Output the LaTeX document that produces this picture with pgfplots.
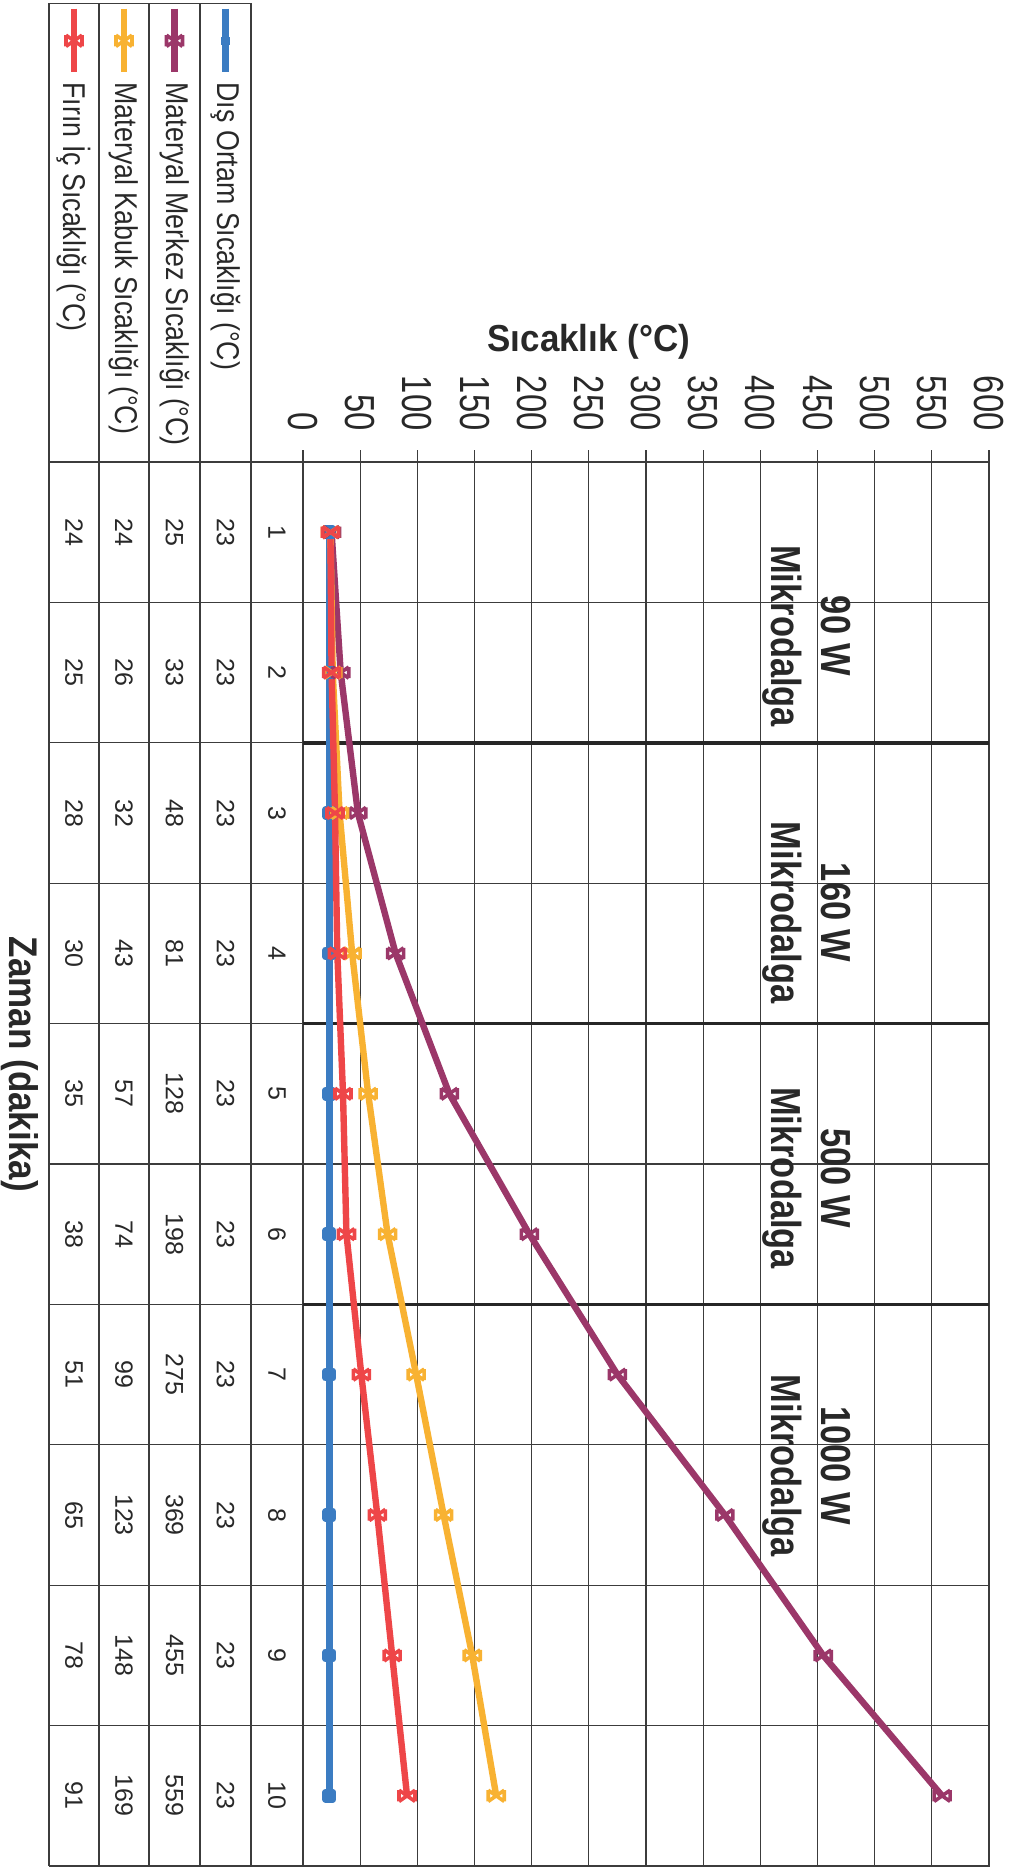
\documentclass[border=0pt]{standalone}
\usepackage{fontspec}
\setmainfont{Liberation Sans}
\newfontfamily\tickfont[FakeStretch=0.78]{Liberation Sans}
\newfontfamily\legfont[FakeStretch=0.85]{Liberation Sans}
\newfontfamily\annfont[FakeStretch=0.82]{Liberation Sans}
\newfontfamily\titfont[FakeStretch=0.93]{Liberation Sans}
\newfontfamily\zfont[FakeStretch=0.875]{Liberation Sans}
\usepackage{pgfplots}
\usepackage{pgfplotstable}
\pgfplotsset{compat=1.18}

\definecolor{cblue}{RGB}{59,124,194}
\definecolor{cmaroon}{RGB}{155,55,105}
\definecolor{corange}{RGB}{248,178,50}
\definecolor{cred}{RGB}{238,70,72}
\definecolor{gridc}{RGB}{60,60,60}
\definecolor{txt}{RGB}{40,40,40}

\pgfplotstableread{
t dis merkez kabuk firin
1 23 25 24 24
2 23 33 26 25
3 23 48 32 28
4 23 81 43 30
5 23 128 57 35
6 23 198 74 38
7 23 275 99 51
8 23 369 123 65
9 23 455 148 78
10 23 559 169 91
}\data

\pgfdeclareplotmark{xb}{%
 \pgfpathmoveto{\pgfqpoint{-\pgfplotmarksize}{-0.7\pgfplotmarksize}}%
 \pgfpathlineto{\pgfqpoint{\pgfplotmarksize}{0.7\pgfplotmarksize}}%
 \pgfpathmoveto{\pgfqpoint{-\pgfplotmarksize}{0.7\pgfplotmarksize}}%
 \pgfpathlineto{\pgfqpoint{\pgfplotmarksize}{-0.7\pgfplotmarksize}}%
 \pgfpathmoveto{\pgfqpoint{-\pgfplotmarksize}{-0.7\pgfplotmarksize}}%
 \pgfpathlineto{\pgfqpoint{-\pgfplotmarksize}{0.7\pgfplotmarksize}}%
 \pgfpathmoveto{\pgfqpoint{\pgfplotmarksize}{-0.7\pgfplotmarksize}}%
 \pgfpathlineto{\pgfqpoint{\pgfplotmarksize}{0.7\pgfplotmarksize}}%
 \pgfusepathqstroke}

\begin{document}
\begin{tikzpicture}
\path[use as bounding box] (0,0) rectangle (510pt,936pt);
\begin{axis}[
  at={(151.5pt,3pt)}, anchor=south west,
  scale only axis, width=343pt, height=702pt,
  xmin=0, xmax=600, ymin=0.5, ymax=10.5, y dir=reverse,
  clip=false,
  xtick={0,50,...,600}, ytick=\empty,
  xmajorgrids, major grid style={gridc, line width=0.6pt},
  axis line style={gridc, line width=0.6pt},
  xtick align=outside, major tick length=6pt, tick style={gridc, line width=0.6pt},
  xtick pos=upper, xticklabel pos=upper,
  /pgf/number format/assume math mode=true,
  xticklabel style={rotate=-90, anchor=east, inner sep=0pt, text=txt,
    font=\tickfont\fontsize{21}{21}\selectfont},
  xticklabel shift=9.5pt,
  nodes near coords style={rotate=-90, anchor=center, text=txt, inner sep=0pt,
    font=\fontsize{12.5}{12.5}\selectfont},
]
% table lines
\draw[gridc, line width=0.6pt] (axis cs:-222.2,-2.767) -- (axis cs:-45.5,-2.767);
\foreach \xx in {-222.2,-178.4,-134.7,-90.1,-45.5} {
  \edef\tmp{\noexpand\draw[gridc, line width=0.6pt] (axis cs:\xx,-2.767) -- (axis cs:\xx,10.5);}\tmp
}
\draw[gridc, line width=0.6pt] (axis cs:-222.2,0.5) -- (axis cs:0,0.5);
\foreach \yy in {1.5,2.5,...,9.5} {
  \edef\tmp{\noexpand\draw[gridc, line width=0.6pt] (axis cs:-222.2,\yy) -- (axis cs:600,\yy);}\tmp
}
\draw[gridc, line width=0.6pt] (axis cs:-222.2,10.5) -- (axis cs:600,10.5);
% thick separators
\draw[black!85, line width=1.8pt] (axis cs:0,2.5) -- (axis cs:600,2.5);
\draw[black!85, line width=1.8pt] (axis cs:0,4.5) -- (axis cs:600,4.5);
\draw[black!85, line width=1.8pt] (axis cs:0,6.5) -- (axis cs:600,6.5);

% data series
\addplot[cblue, line width=3.2pt, line join=round, mark=square*, mark size=1.8pt] table[x=dis, y=t] {\data};
\addplot[cmaroon, line width=3.2pt, line join=round, mark=xb, mark size=4pt, mark options={line width=1.8pt}] table[x=merkez, y=t] {\data};
\addplot[corange, line width=3.2pt, line join=round, mark=xb, mark size=4pt, mark options={line width=1.8pt}] table[x=kabuk, y=t] {\data};
\addplot[cred, line width=3.2pt, line join=round, mark=xb, mark size=4pt, mark options={line width=1.8pt}] table[x=firin, y=t] {\data};

% data table values
\addplot[draw=none, forget plot, nodes near coords, point meta=explicit symbolic] table[x expr=-22.7, y=t, meta=t] {\data};
\addplot[draw=none, forget plot, nodes near coords, point meta=explicit symbolic] table[x expr=-67.8, y=t, meta=dis] {\data};
\addplot[draw=none, forget plot, nodes near coords, point meta=explicit symbolic] table[x expr=-112.4, y=t, meta=merkez] {\data};
\addplot[draw=none, forget plot, nodes near coords, point meta=explicit symbolic] table[x expr=-156.6, y=t, meta=kabuk] {\data};
\addplot[draw=none, forget plot, nodes near coords, point meta=explicit symbolic] table[x expr=-200.3, y=t, meta=firin] {\data};

% legend keys
\addplot[cblue, line width=3.2pt, forget plot] coordinates {(-67.8,-2.73) (-67.8,-2.28)};
\addplot[cblue, only marks, mark=square*, mark size=1.8pt, forget plot] coordinates {(-67.8,-2.5)};
\addplot[cmaroon, line width=3.2pt, forget plot] coordinates {(-112.4,-2.73) (-112.4,-2.28)};
\addplot[cmaroon, only marks, mark=xb, mark size=4pt, mark options={line width=1.8pt}, forget plot] coordinates {(-112.4,-2.5)};
\addplot[corange, line width=3.2pt, forget plot] coordinates {(-156.6,-2.73) (-156.6,-2.28)};
\addplot[corange, only marks, mark=xb, mark size=4pt, mark options={line width=1.8pt}, forget plot] coordinates {(-156.6,-2.5)};
\addplot[cred, line width=3.2pt, forget plot] coordinates {(-200.3,-2.73) (-200.3,-2.28)};
\addplot[cred, only marks, mark=xb, mark size=4pt, mark options={line width=1.8pt}, forget plot] coordinates {(-200.3,-2.5)};

\begin{scope}[every node/.style={rotate=-90, anchor=west, inner sep=0pt, text=txt,
    font=\legfont\fontsize{15.75}{18}\selectfont}]
\node at (axis cs:-67.8,-2.205) {Dış Ortam Sıcaklığı (°C)};
\node at (axis cs:-112.4,-2.205) {Materyal Merkez Sıcaklığı (°C)};
\node at (axis cs:-156.6,-2.205) {Materyal Kabuk Sıcaklığı (°C)};
\node at (axis cs:-200.3,-2.205) {Fırın İç Sıcaklığı (°C)};
\end{scope}

% titles
\node[text=txt, font=\titfont\bfseries\fontsize{18.8}{20}\selectfont] at (axis cs:250,-0.354) {Sıcaklık (°C)};
\node[rotate=-90, text=txt, font=\zfont\bfseries\fontsize{20}{22}\selectfont] at (axis cs:-247.5,4.79) {Zaman (dakika)};

% annotations
\begin{scope}[every node/.style={rotate=-90, align=center, text=txt,
    font=\annfont\bfseries\fontsize{21}{25}\selectfont}]
\node at (axis cs:441,1.74) {90 W\\Mikrodalga};
\node at (axis cs:441,3.71) {160 W\\Mikrodalga};
\node at (axis cs:441,5.6) {500 W\\Mikrodalga};
\node at (axis cs:441,7.65) {1000 W\\Mikrodalga};
\end{scope}
\end{axis}
\end{tikzpicture}
\end{document}
